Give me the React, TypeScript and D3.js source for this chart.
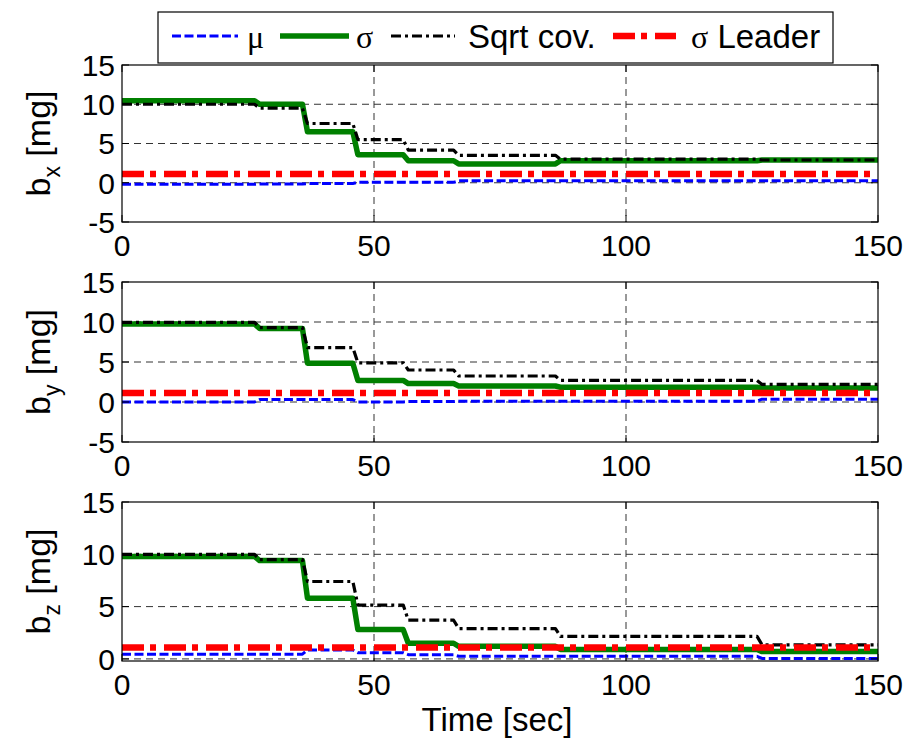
import * as d3 from 'd3'

// step change times (sec), each level holds until the next time
const stepTimes = [0, 26.3, 35.8, 45.8, 55.8, 65.8, 86, 126]
const tEnd = 150
const xTicks = [0, 50, 100, 150]

// b_x
const muX = [-0.2, -0.15, -0.1, 0.05, 0.05, 0.25, 0.25, 0.25]
const sigmaX = [10.45, 10.0, 6.5, 3.57, 2.8, 2.4, 2.8, 2.9]
const sqrtCovX = [10.0, 9.5, 7.55, 5.5, 4.15, 3.5, 3.0, 2.9]
const leaderX = [1.12]

// b_y
const muY = [0.0, 0.3, 0.3, 0.0, 0.05, 0.1, 0.1, 0.35]
const sigmaY = [9.75, 9.2, 4.85, 2.7, 2.3, 2.0, 1.85, 1.75]
const sqrtCovY = [9.95, 9.3, 6.8, 4.9, 4.0, 3.25, 2.7, 2.2]
const leaderY = [1.12]

// b_z
const muZ = [0.45, 0.45, 0.85, 0.6, 0.4, 0.25, 0.25, 0.05]
const sigmaZ = [9.8, 9.4, 5.8, 2.8, 1.5, 1.2, 0.9, 0.7]
const sqrtCovZ = [10.0, 9.5, 7.4, 5.15, 3.7, 2.9, 2.15, 1.35]
const leaderZ = [1.1]

const yTicksXY = [-5, 0, 5, 10, 15]
const yTicksZ = [0, 5, 10, 15]

// [greek symbol part, plain text part]
const legendLabels: [string, string][] = [
  ['\u03bc', ''],
  ['\u03c3', ''],
  ['', 'Sqrt cov.'],
  ['\u03c3', ' Leader'],
]

const FONT = '"Liberation Sans", Arial, Helvetica, sans-serif'
const SYMBOL_FONT = '"Liberation Serif", "DejaVu Serif", serif'

const styles = [
  { color: '#0000ff', width: 3, dash: '9,3.5' },
  { color: '#008000', width: 5.5, dash: 'none' },
  { color: '#000000', width: 3.2, dash: '10,4,3,4' },
  { color: '#ff0000', width: 6.5, dash: '22,6,6,8' },
]

// turn levels into a step line with a short slope at each change
const stepPoints = (levels: number[]): [number, number][] => {
  if (levels.length === 1) return [[0, levels[0]], [tEnd, levels[0]]]
  const pts: [number, number][] = [[0, levels[0]]]
  for (let i = 1; i < levels.length; i++) {
    pts.push([stepTimes[i], levels[i - 1]])
    pts.push([stepTimes[i] + 1, levels[i]])
  }
  pts.push([tEnd, levels[levels.length - 1]])
  return pts
}

const panels = [
  { sub: 'x', top: 65, bottom: 222, domain: [-5, 15], ticks: yTicksXY, series: [muX, sigmaX, sqrtCovX, leaderX] },
  { sub: 'y', top: 282, bottom: 442, domain: [-5, 15], ticks: yTicksXY, series: [muY, sigmaY, sqrtCovY, leaderY] },
  { sub: 'z', top: 502, bottom: 661, domain: [-0.2, 15], ticks: yTicksZ, series: [muZ, sigmaZ, sqrtCovZ, leaderZ] },
]

const left = 122
const right = 878

const Panel = ({ p, idx }: { p: (typeof panels)[number]; idx: number }) => {
  const x = d3.scaleLinear().domain([0, tEnd]).range([left, right])
  const y = d3.scaleLinear().domain(p.domain).range([p.bottom, p.top])
  const line = d3
    .line<[number, number]>()
    .x((d) => x(d[0]))
    .y((d) => y(d[1]))
  const clipId = `clip${idx}`
  const [d0, d1] = p.domain
  const midY = (p.top + p.bottom) / 2

  return (
    <g>
      <defs>
        <clipPath id={clipId}>
          <rect x={left} y={p.top} width={right - left} height={p.bottom - p.top} />
        </clipPath>
      </defs>
      {/* grid */}
      {p.ticks
        .filter((t) => t > d0 && t < d1)
        .map((t) => (
          <line key={'gy' + t} x1={left} x2={right} y1={y(t)} y2={y(t)} stroke="#333" strokeWidth={1} strokeDasharray="7,5" />
        ))}
      {xTicks
        .filter((t) => t > 0 && t < tEnd)
        .map((t) => (
          <line key={'gx' + t} x1={x(t)} x2={x(t)} y1={p.top} y2={p.bottom} stroke="#333" strokeWidth={1} strokeDasharray="7,5" />
        ))}
      {/* data */}
      <g clipPath={`url(#${clipId})`}>
        {p.series.map((s, i) => (
          <path
            key={i}
            d={line(stepPoints(s)) || undefined}
            fill="none"
            stroke={styles[i].color}
            strokeWidth={styles[i].width}
            strokeDasharray={styles[i].dash}
            strokeLinejoin="round"
          />
        ))}
      </g>
      {/* box + ticks */}
      <rect x={left} y={p.top} width={right - left} height={p.bottom - p.top} fill="none" stroke="#000" strokeWidth={1.2} />
      {p.ticks.map((t) => (
        <g key={'ty' + t}>
          <line x1={left} x2={left + 7} y1={y(t)} y2={y(t)} stroke="#000" />
          <line x1={right - 7} x2={right} y1={y(t)} y2={y(t)} stroke="#000" />
          <text x={left - 7} y={y(t)} dy="0.36em" textAnchor="end" fontSize={30} fontFamily={FONT}>
            {t}
          </text>
        </g>
      ))}
      {xTicks.map((t) => (
        <g key={'tx' + t}>
          <line x1={x(t)} x2={x(t)} y1={p.bottom} y2={p.bottom - 7} stroke="#000" />
          <line x1={x(t)} x2={x(t)} y1={p.top} y2={p.top + 7} stroke="#000" />
          <text x={x(t)} y={p.bottom + 34} textAnchor="middle" fontSize={30} fontFamily={FONT}>
            {t}
          </text>
        </g>
      ))}
      <text
        transform={`translate(50,${midY}) rotate(-90)`}
        textAnchor="middle"
        fontSize={34}
        fontFamily={FONT}
      >
        b<tspan fontSize={23} dy={10}>{p.sub}</tspan>
        <tspan dy={-10}> [mg]</tspan>
      </text>
    </g>
  )
}

const Legend = () => {
  const items = [
    { x1: 172, x2: 238, tx: 247 },
    { x1: 280, x2: 349, tx: 356 },
    { x1: 391, x2: 455, tx: 468 },
    { x1: 613, x2: 676, tx: 691 },
  ]
  return (
    <g>
      <rect x={158} y={12} width={675} height={51} fill="#fff" stroke="#000" strokeWidth={1.2} />
      {items.map((it, i) => (
        <g key={i}>
          <line
            x1={it.x1}
            x2={it.x2}
            y1={36}
            y2={36}
            stroke={styles[i].color}
            strokeWidth={styles[i].width}
            strokeDasharray={styles[i].dash}
          />
          <text x={it.tx} y={48} fontSize={33} fontFamily={FONT}>
            {legendLabels[i][0] && (
              <tspan fontFamily={SYMBOL_FONT} fontSize={32}>
                {legendLabels[i][0]}
              </tspan>
            )}
            {legendLabels[i][1]}
          </text>
        </g>
      ))}
    </g>
  )
}

export default function App() {
  return (
    <svg
      width={920}
      height={740}
      style={{ position: 'absolute', left: 0, top: 0, background: '#fff' }}
    >
      <rect width={920} height={740} fill="#fff" />
      {panels.map((p, i) => (
        <Panel key={i} p={p} idx={i} />
      ))}
      <Legend />
      <text x={497} y={731} textAnchor="middle" fontSize={33} fontFamily={FONT}>
        Time [sec]
      </text>
    </svg>
  )
}
